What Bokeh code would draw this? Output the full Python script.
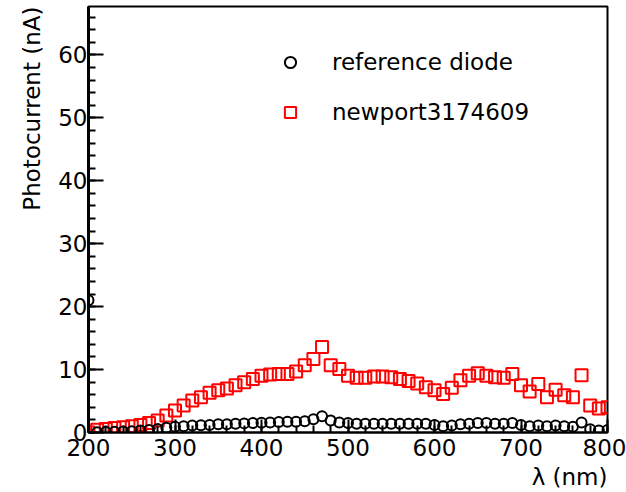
from bokeh.plotting import figure
from bokeh.models import Range1d, SingleIntervalTicker, Legend, LegendItem, Title
from bokeh.embed import file_html
from bokeh.resources import INLINE

# ---------------- data ----------------
wavelength = [200, 210, 220, 230, 240, 250, 260, 270, 280, 290,
              300, 310, 320, 330, 340, 350, 360, 370, 380, 390,
              400, 410, 420, 430, 440, 450, 460, 470, 480, 490,
              500, 510, 520, 530, 540, 550, 560, 570, 580, 590,
              600, 610, 620, 630, 640, 650, 660, 670, 680, 690,
              700, 710, 720, 730, 740, 750, 760, 770, 780, 790, 800]

reference_diode = [21.0, 0.05, 0.1, 0.1, 0.15, 0.2, 0.3, 0.4, 0.55, 0.75,
                   0.9, 1.0, 1.1, 1.15, 1.2, 1.3, 1.3, 1.4, 1.45, 1.5,
                   1.55, 1.6, 1.65, 1.7, 1.7, 1.8, 2.1, 2.6, 1.9, 1.6,
                   1.5, 1.4, 1.4, 1.4, 1.4, 1.4, 1.4, 1.4, 1.4, 1.4,
                   1.2, 1.0, 1.1, 1.3, 1.4, 1.5, 1.5, 1.4, 1.4, 1.5,
                   1.2, 1.0, 1.1, 1.0, 1.1, 1.0, 0.9, 1.6, 0.5, 0.3, 0.4]

newport3174609 = [0.0, 0.45, 0.55, 0.7, 0.85, 1.0, 1.2, 1.5, 1.9, 2.7,
                  3.5, 4.3, 5.1, 5.6, 6.3, 6.7, 7.0, 7.5, 8.0, 8.5,
                  9.0, 9.2, 9.3, 9.3, 9.7, 10.7, 11.7, 13.6, 10.7, 10.1,
                  9.0, 8.7, 8.7, 8.9, 8.9, 8.8, 8.5, 8.2, 7.8, 7.2,
                  6.7, 6.1, 7.1, 8.3, 9.0, 9.4, 9.0, 8.8, 8.7, 9.3,
                  7.5, 6.5, 7.7, 5.6, 6.8, 5.9, 5.6, 9.1, 4.3, 3.8, 4.0]

series_labels = ["reference diode", "newport3174609"]
x_title = "λ (nm)"
y_title = "Photocurrent (nA)"

FONT = "DejaVu Sans"

# ---------------- figure ----------------
p = figure(width=626, height=492, output_backend="svg", toolbar_location=None,
           x_range=Range1d(200, 800), y_range=Range1d(0, 67.7),
           min_border_left=88, min_border_right=19,
           min_border_top=6, min_border_bottom=60)

p.grid.visible = False
p.background_fill_color = "white"
p.border_fill_color = "white"
p.outline_line_color = "black"
p.outline_line_width = 2

p.xaxis.ticker = SingleIntervalTicker(interval=100, num_minor_ticks=5)
p.yaxis.ticker = SingleIntervalTicker(interval=10, num_minor_ticks=5)

for ax, maj, mnr in ((p.xaxis, 13, 7), (p.yaxis, 15, 7)):
    ax.axis_line_width = 2
    ax.axis_line_color = "black"
    ax.major_tick_in = maj
    ax.major_tick_out = 0
    ax.minor_tick_in = mnr
    ax.minor_tick_out = 0
    ax.major_tick_line_width = 2
    ax.minor_tick_line_width = 2
    ax.major_tick_line_color = "black"
    ax.minor_tick_line_color = "black"
    ax.major_label_text_font = FONT
    ax.major_label_text_font_size = "23px"
    ax.major_label_text_color = "black"
p.xaxis.major_label_standoff = 6
p.yaxis.major_label_standoff = 1
p.yaxis.axis_line_width = 3

# ---------------- data glyphs ----------------
r_new = p.scatter(wavelength, newport3174609, marker="square", size=12,
                  fill_color=None, line_color="#ff0000", line_width=2)
r_ref = p.scatter(wavelength, reference_diode, marker="circle", size=10,
                  fill_color=None, line_color="black", line_width=2)

# ---------------- legend ----------------
legend = Legend(items=[LegendItem(label=series_labels[0], renderers=[r_ref]),
                       LegendItem(label=series_labels[1], renderers=[r_new])],
                location=(188, 306), orientation="vertical",
                glyph_width=28, glyph_height=28, label_height=28,
                label_standoff=28, spacing=22, padding=0, margin=0,
                border_line_alpha=0, background_fill_alpha=0,
                label_text_font=FONT, label_text_font_size="23px",
                label_text_color="black")
p.add_layout(legend)

# ---------------- axis titles ----------------
p.add_layout(Title(text=y_title, align="right", offset=0, standoff=22,
                   text_font=FONT, text_font_size="23px",
                   text_font_style="normal", text_color="black"), "left")
p.add_layout(Title(text=x_title, align="right", offset=0, standoff=6,
                   text_font=FONT, text_font_size="23px",
                   text_font_style="normal", text_color="black"), "below")

open("out.html", "w").write(file_html(p, INLINE))
